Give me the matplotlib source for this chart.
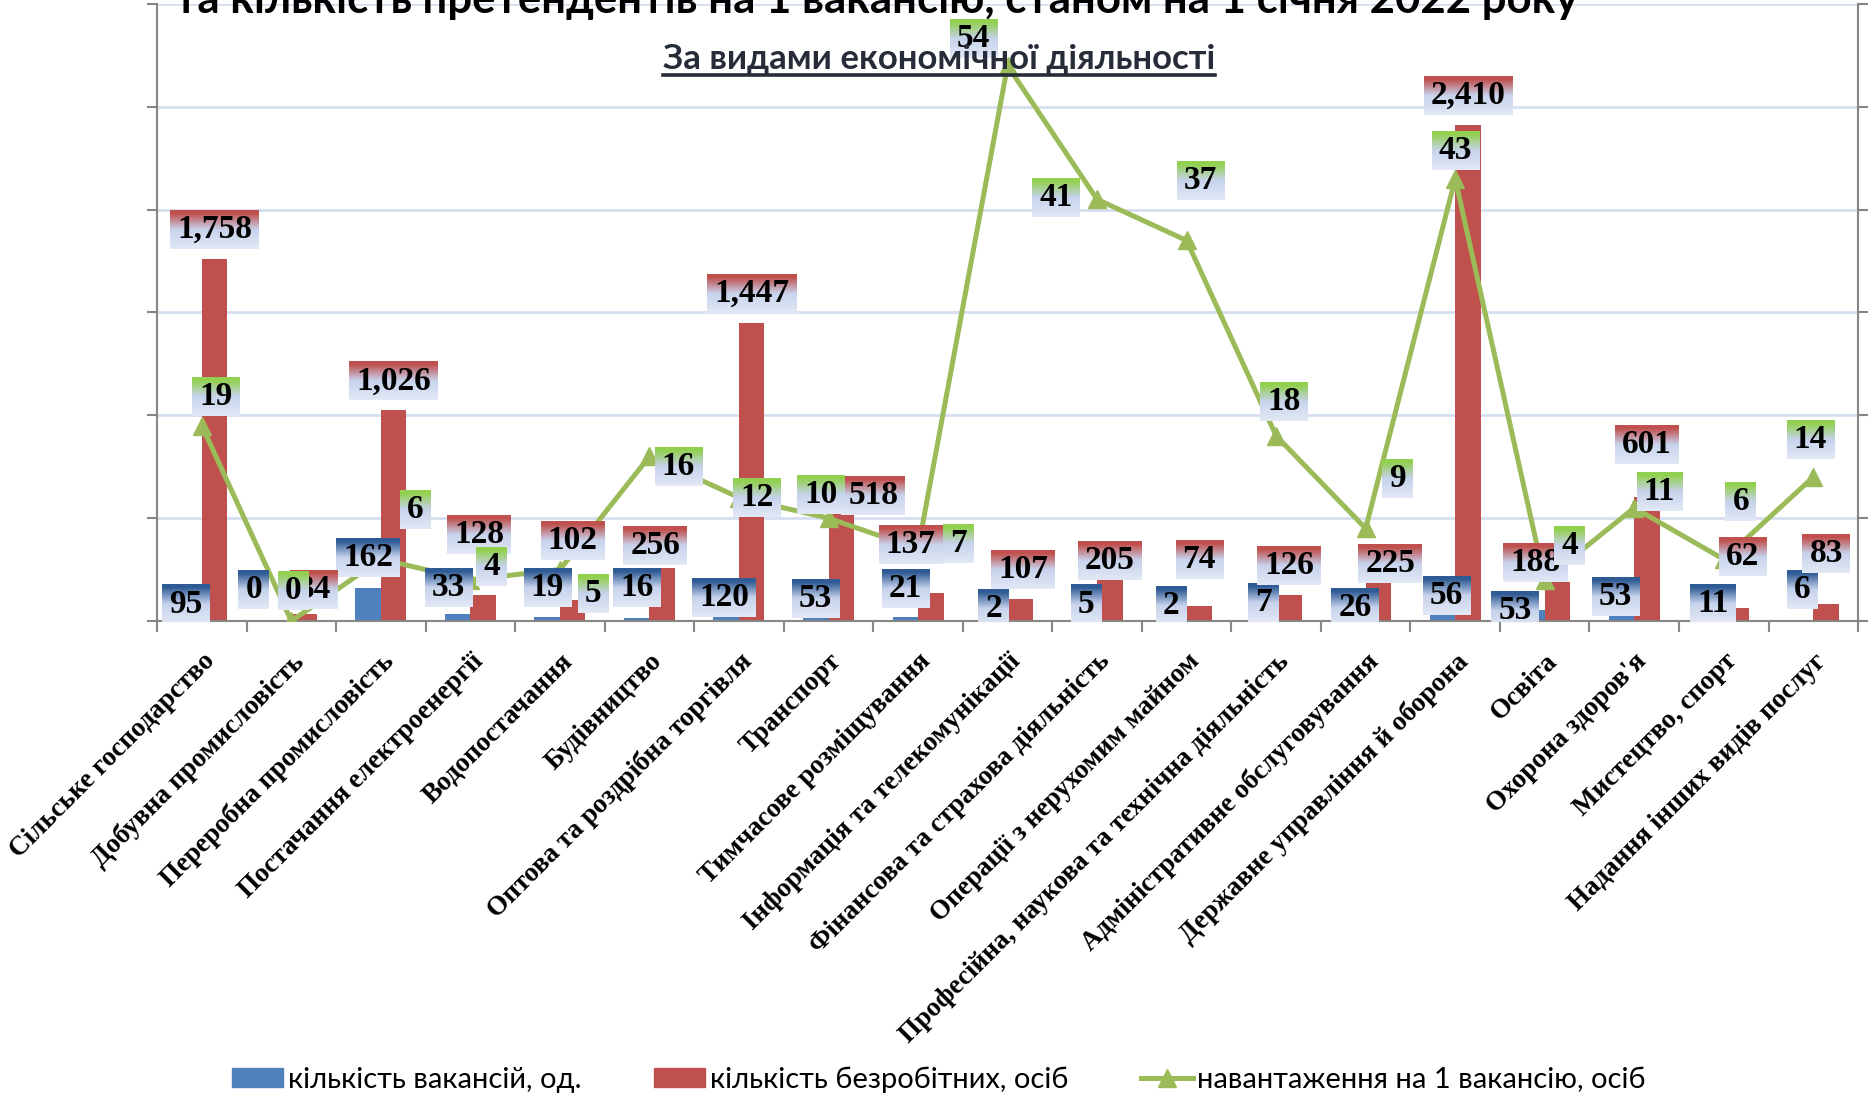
import numpy as np
import matplotlib
matplotlib.use('Agg')
import matplotlib.pyplot as plt
from matplotlib.image import BboxImage
from matplotlib.transforms import Bbox
from matplotlib.colors import to_rgb
from matplotlib.lines import Line2D
from matplotlib.patches import Patch

# види економічної діяльності
categories = [
    'Сільське господарство', 'Добувна промисловість', 'Переробна промисловість',
    'Постачання електроенергії', 'Водопостачання', 'Будівництво',
    'Оптова та роздрібна торгівля', 'Транспорт', 'Тимчасове розміщування',
    'Інформація та телекомунікації', 'Фінансова та страхова діяльність',
    'Операції з нерухомим майном', 'Професійна, наукова та технічна діяльність',
    'Адміністративне обслуговування', 'Державне управління й оборона', 'Освіта',
    "Охорона здоров'я", 'Мистецтво, спорт', 'Надання інших видів послуг',
]
vacancies = [95, 0, 162, 33, 19, 16, 120, 53, 21, 2, 5, 2, 7, 26, 56, 53, 53, 11, 6]
unemployed = [1758, 34, 1026, 128, 102, 256, 1447, 518, 137, 107, 205, 74, 126, 225,
              2410, 188, 601, 62, 83]
per_vacancy = [19, 0, 6, 4, 5, 16, 12, 10, 7, 54, 41, 37, 18, 9, 43, 4, 11, 6, 14]

legend_names = ['кількість вакансій, од.', 'кількість безробітних, осіб',
                'навантаження на 1 вакансію, осіб']

# зсуви підписів (пікселі) - у оригіналі їх рухали вручну
blue_dx = [-3, -25, 0, -9, 0, 0, -2, 0, 0, -1, 2, -3, 0, 2, 4, -17, -6, 2, 2]
blue_dy = [-3, 31, 30, 27, 30, 30, -1, 12, 28, 12, 15, 15, 17, 8, 14, 0, 14, 15, 30]
red_dx = [0, 10, 0, -4, 0, -7, 0, 32, -20, 3, 0, 0, 0, 12, 0, -22, 0, 6, 0]
red_dy = [30, 24, 29, 60, 60, 23, 30, 19, 48, 29, 18, 46, 30, 11, 30, 20, 53, 52, 50]
green_dx = [14, 2, 34, 21, 33, 29, 18, -8, 40, -34, -41, 14, 8, 32, 0, 25, 25, 17, -3]
green_dy = [29, 30, 50, 13, -24, -10, 0, 24, 6, 27, 2, 60, 34, 50, 28, 34, 16, 58, 38]

blue = '#4f81bd'
red = '#c0504d'
green = '#9bbb59'
axis_gray = '#868686'
sub_color = '#262c38'

fig = plt.figure(figsize=(18.74, 11.03), dpi=100)
ax = fig.add_axes([0.0838, 0.437, 0.9077, 0.5594])

x = np.arange(len(categories))
w = 0.285
ax.bar(x - w / 2, vacancies, w, color=blue, zorder=2)
ax.bar(x + w / 2, unemployed, w, color=red, zorder=2)
ax.set_xlim(-0.5, len(categories) - 0.5)
ax.set_ylim(0, 3000)
ax.set_yticks(np.arange(0, 3001, 500))
ax.set_yticklabels([])
ax.grid(axis='y', color='#d6dff0', lw=2)
ax.set_axisbelow(True)

ax.set_xticks(x)
ax.set_xticklabels(categories, rotation=45, ha='right', va='top', rotation_mode='anchor',
                   family='Liberation Serif', fontweight='bold', fontsize=19.5)
ax.set_xticks(np.arange(-0.5, len(categories), 1), minor=True)
ax.tick_params(axis='x', which='major', length=0, pad=20)
ax.tick_params(axis='x', which='minor', length=8, width=1.5, color=axis_gray)
ax.tick_params(axis='y', length=7, width=1.5, color=axis_gray)
for s in ['top', 'right']:
    ax.spines[s].set_visible(False)
for s in ['left', 'bottom']:
    ax.spines[s].set_color(axis_gray)
    ax.spines[s].set_linewidth(1.5)

ax2 = ax.twinx()
ax2.plot(x, per_vacancy, color=green, lw=3.6, marker='^', ms=13, zorder=3)
ax2.set_ylim(0, 60)
ax2.set_yticks(np.arange(0, 61, 10))
ax2.set_yticklabels([])
ax2.tick_params(axis='y', length=7, width=1.5, color=axis_gray)
for s in ['top', 'left', 'bottom']:
    ax2.spines[s].set_visible(False)
ax2.spines['right'].set_color(axis_gray)
ax2.spines['right'].set_linewidth(1.5)

lab_font = dict(family='Liberation Serif', fontweight='bold', fontsize=24,
                ha='center', va='center', annotation_clip=False)
labels = []
for i in range(len(categories)):
    t = ax2.annotate(str(vacancies[i]), xy=(x[i] - w / 2, vacancies[i]), xycoords=ax.transData,
                     xytext=(blue_dx[i], blue_dy[i]), textcoords='offset pixels', zorder=5,
                     **lab_font)
    labels.append((t, '#2f5b95'))
for i in range(len(categories)):
    t = ax2.annotate(f'{unemployed[i]:,}', xy=(x[i] + w / 2, unemployed[i]), xycoords=ax.transData,
                     xytext=(red_dx[i], red_dy[i]), textcoords='offset pixels', zorder=6,
                     **lab_font)
    labels.append((t, red))
for i in range(len(categories)):
    t = ax2.annotate(str(per_vacancy[i]), xy=(x[i], per_vacancy[i]), xycoords=ax2.transData,
                     xytext=(green_dx[i], green_dy[i]), textcoords='offset pixels', zorder=7,
                     **lab_font)
    labels.append((t, '#92d050'))


def gradient(top):
    top = np.array(to_rgb(top))
    mid = np.array(to_rgb('#c7d3ec'))
    bot = np.array(to_rgb('#e2e8f5'))
    t = np.linspace(0, 1, 80)[:, None]
    k = np.clip((t - 0.08) / 0.42, 0, 1)
    a = np.where(t < 0.5, top + (mid - top) * k, mid + (bot - mid) * ((t - 0.5) / 0.5))
    return a.reshape(80, 1, 3)


fig.text(0.468, 0.988, 'та кількість претендентів на 1 вакансію, станом на 1 січня 2022 року',
         ha='center', va='baseline', fontsize=31.5, fontweight='bold', family='Lato')
sub = fig.text(0.501, 0.9374, 'За видами економічної діяльності', ha='center', va='baseline',
               fontsize=25, fontweight='bold', family='Lato', color=sub_color)

handles = [Patch(color=blue), Patch(color=red),
           Line2D([], [], color=green, lw=3.6, marker='^', ms=13)]
fig.legend(handles, legend_names, loc='center', bbox_to_anchor=(0.501, 0.021), ncol=3,
           frameon=False, prop={'family': 'Lato', 'size': 21}, handlelength=1.75,
           handletextpad=0.17, columnspacing=2.5, handleheight=0.62)

# фон підписів з градієнтом і підкреслення підзаголовка
fig.canvas.draw()
r = fig.canvas.get_renderer()
for t, col in labels:
    bb = t.get_window_extent(r)
    box = Bbox.from_extents(bb.x0 - 7, bb.y0 - 4, bb.x1 + 7, bb.y1 + 4)
    im = BboxImage(box, zorder=t.get_zorder() - 0.5, interpolation='bilinear')
    im.set_data(gradient(col))
    ax2.add_artist(im)

bb = sub.get_window_extent(r)
W = fig.bbox.width
fig.add_artist(Line2D([bb.x0 / W, bb.x1 / W], [0.932, 0.932], color=sub_color, lw=2.6))

fig.savefig('out.png', dpi=100)
